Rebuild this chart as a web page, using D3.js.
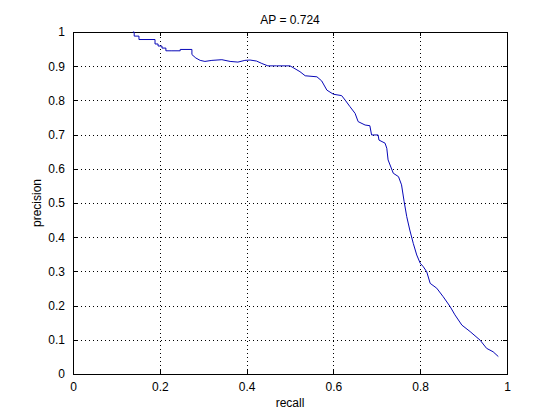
<!DOCTYPE html>
<html>
<head>
<meta charset="utf-8">
<script src="https://cdn.jsdelivr.net/npm/d3@7"></script>
<style>
  html, body { margin: 0; padding: 0; background: #fff; }
  svg { display: block; }
  text { font-family: "Liberation Sans", Arial, sans-serif; font-size: 12px; fill: #000; }
</style>
</head>
<body>
<svg id="chart" width="560" height="420"></svg>
<script>
const titleText = "AP = 0.724";
const xLabel = "recall";
const yLabel = "precision";
const xTicks = [0, 0.2, 0.4, 0.6, 0.8, 1];
const yTicks = [0, 0.1, 0.2, 0.3, 0.4, 0.5, 0.6, 0.7, 0.8, 0.9, 1];

const recall = [
  0.138, 0.141, 0.141, 0.152, 0.152, 0.189, 0.189, 0.196, 0.196, 0.205, 0.205, 0.214, 0.214,
  0.226, 0.247, 0.247, 0.274, 0.274, 0.283, 0.293, 0.304, 0.320, 0.343, 0.362, 0.380, 0.396,
  0.408, 0.423, 0.435, 0.449, 0.469, 0.500, 0.507, 0.523, 0.535, 0.562, 0.573, 0.585, 0.600,
  0.619, 0.627, 0.638, 0.650, 0.657, 0.673, 0.684, 0.688, 0.703, 0.705, 0.719, 0.723, 0.726,
  0.738, 0.750, 0.757, 0.763, 0.769, 0.776, 0.784, 0.792, 0.800, 0.807, 0.815, 0.823, 0.838,
  0.853, 0.869, 0.880, 0.896, 0.915, 0.938, 0.953, 0.968, 0.980
];
const precision = [
  1.000, 1.000, 0.988, 0.988, 0.978, 0.978, 0.965, 0.965, 0.959, 0.959, 0.953, 0.953, 0.945,
  0.945, 0.945, 0.949, 0.949, 0.934, 0.924, 0.917, 0.914, 0.917, 0.919, 0.914, 0.912, 0.917,
  0.918, 0.915, 0.908, 0.901, 0.901, 0.901, 0.896, 0.884, 0.872, 0.869, 0.857, 0.830, 0.818,
  0.814, 0.801, 0.782, 0.762, 0.738, 0.728, 0.726, 0.699, 0.699, 0.684, 0.675, 0.660, 0.626,
  0.587, 0.577, 0.553, 0.504, 0.460, 0.421, 0.382, 0.348, 0.324, 0.314, 0.299, 0.265, 0.251,
  0.226, 0.197, 0.173, 0.143, 0.124, 0.099, 0.075, 0.065, 0.051
];

const svg = d3.select("#chart");
const mLeft = 73, mRight = 507, mTop = 32, mBottom = 374;

const x = d3.scaleLinear().domain([0, 1]).range([mLeft, mRight]);
const y = d3.scaleLinear().domain([0, 1]).range([mBottom, mTop]);

const tickLen = 4;

// grid
const grid = svg.append("g").attr("stroke", "#000").attr("stroke-width", 1)
  .attr("stroke-dasharray", "1,3").attr("shape-rendering", "crispEdges");
xTicks.slice(1, -1).forEach(t => {
  grid.append("line").attr("x1", Math.round(x(t)) + 0.5).attr("x2", Math.round(x(t)) + 0.5)
    .attr("y1", mBottom).attr("y2", mTop);
});
yTicks.slice(1, -1).forEach(t => {
  grid.append("line").attr("x1", mLeft).attr("x2", mRight)
    .attr("y1", Math.round(y(t)) + 0.5).attr("y2", Math.round(y(t)) + 0.5);
});

const fmt = d => d === 0 ? "0" : d === 1 ? "1" : d3.format(".1f")(d);
const xAxisB = d3.axisBottom(x).tickValues(xTicks).tickSize(-tickLen).tickPadding(8).tickFormat(fmt);
const xAxisT = d3.axisTop(x).tickValues(xTicks).tickSize(-tickLen).tickFormat("");
const yAxisL = d3.axisLeft(y).tickValues(yTicks).tickSize(-tickLen).tickPadding(8).tickFormat(fmt);
const yAxisR = d3.axisRight(y).tickValues(yTicks).tickSize(-tickLen).tickFormat("");

function styleAxis(g) {
  g.select(".domain").remove();
  g.selectAll("line").attr("stroke", "#000").attr("shape-rendering", "crispEdges");
  g.selectAll("text").attr("font-family", "Liberation Sans, Arial, sans-serif").attr("font-size", 12);
}
svg.append("g").attr("transform", `translate(0,${mBottom})`).call(xAxisB).call(styleAxis);
svg.append("g").attr("transform", `translate(0,${mTop})`).call(xAxisT).call(styleAxis);
svg.append("g").attr("transform", `translate(${mLeft},0)`).call(yAxisL).call(styleAxis);
svg.append("g").attr("transform", `translate(${mRight},0)`).call(yAxisR).call(styleAxis);

// box
svg.append("rect").attr("x", mLeft + 0.5).attr("y", mTop + 0.5)
  .attr("width", mRight - mLeft).attr("height", mBottom - mTop)
  .attr("fill", "none").attr("stroke", "#000").attr("shape-rendering", "crispEdges");

// curve
const pts = recall.map((r, i) => [r, precision[i]]);
const line = d3.line().x(d => x(d[0])).y(d => y(d[1]));
svg.append("path").datum(pts).attr("d", line)
  .attr("fill", "none").attr("stroke", "#0808b8").attr("stroke-width", 1);

// labels
svg.append("text").attr("x", (mLeft + mRight) / 2).attr("y", 24)
  .attr("text-anchor", "middle").text(titleText);
svg.append("text").attr("x", (mLeft + mRight) / 2).attr("y", 407)
  .attr("text-anchor", "middle").text(xLabel);
svg.append("text").attr("transform", `translate(41,${(mTop + mBottom) / 2}) rotate(-90)`)
  .attr("text-anchor", "middle").text(yLabel);
</script>
</body>
</html>
